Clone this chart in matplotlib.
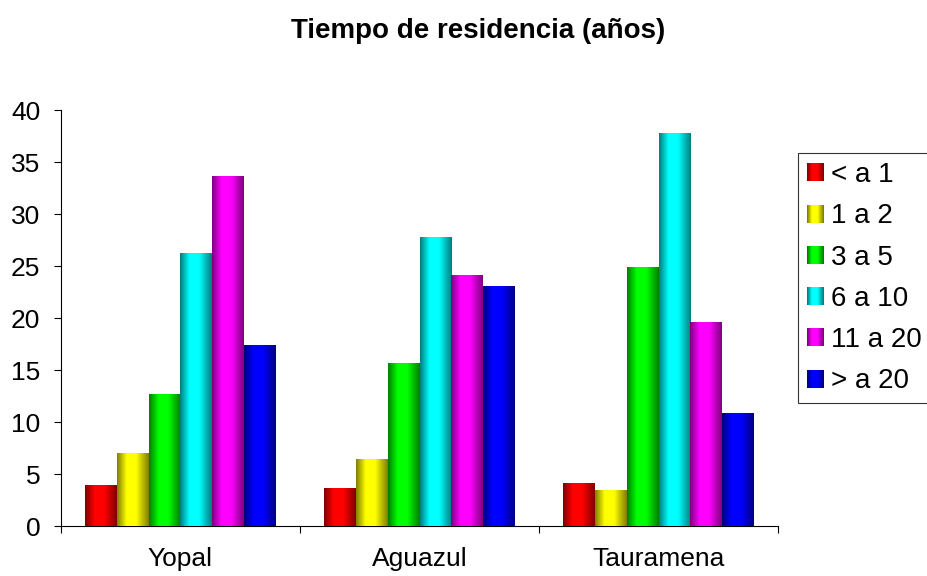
import numpy as np
import matplotlib
matplotlib.use("Agg")
import matplotlib.pyplot as plt
from matplotlib.patches import Rectangle
from matplotlib.legend_handler import HandlerBase

plt.rcParams['font.family'] = ['Liberation Sans', 'DejaVu Sans']

# data
municipios = ["Yopal", "Aguazul", "Tauramena"]
rangos = ["< a 1", "1 a 2", "3 a 5", "6 a 10", "11 a 20", "> a 20"]
menos_1 = [3.9, 3.6, 4.1]
de_1_a_2 = [7.0, 6.4, 3.4]
de_3_a_5 = [12.6, 15.6, 24.9]
de_6_a_10 = [26.2, 27.7, 37.7]
de_11_a_20 = [33.6, 24.1, 19.6]
mas_20 = [17.4, 23.0, 10.8]
series = [menos_1, de_1_a_2, de_3_a_5, de_6_a_10, de_11_a_20, mas_20]
colores = [(1, 0, 0), (1, 1, 0), (0, 1, 0), (0, 1, 1), (1, 0, 1), (0, 0, 1)]


def brillo(n=64):
	"""Horizontal shading profile: dark edges, bright left-centre"""
	t = np.linspace(0, 1, n)
	b = np.minimum(1.0, np.minimum(t / 0.3, (1 - t) / 0.4))
	return 0.5 + 0.5 * np.clip(b, 0, 1)


def gradiente(color, n=64):
	b = brillo(n)
	return np.array([[tuple(c * v for c in color) for v in b]])


class HandlerGradiente(HandlerBase):
	"""Legend box drawn as thin stripes to mimic the bar shading"""
	def __init__(self, color):
		super().__init__()
		self.color = color

	def create_artists(self, legend, orig_handle, xdescent, ydescent,
					   width, height, fontsize, trans):
		n = 16
		b = brillo(n)
		arts = []
		for i in range(n):
			c = tuple(k * b[i] for k in self.color)
			r = Rectangle((-xdescent + i * width / n, -ydescent), width / n + 0.2, height,
						  facecolor=c, edgecolor='none', transform=trans)
			arts.append(r)
		return arts


fig = plt.figure(figsize=(9.28, 5.76), dpi=100)
ax = fig.add_axes([0.0657, 0.0868, 0.7727, 0.7222])

x = np.arange(len(municipios)) + 0.5
ancho = 0.8 / len(series)
handles = []
for i, (vals, col) in enumerate(zip(series, colores)):
	pos = x - 0.4 + ancho * (i + 0.5)
	barras = ax.bar(pos, vals, width=ancho, color=col, label=rangos[i], zorder=2)
	handles.append(barras)
	for p in barras:
		ax.imshow(gradiente(col), extent=[p.get_x(), p.get_x() + p.get_width(), 0, p.get_height()],
				  aspect='auto', interpolation='bilinear', zorder=3)

ax.set_xlim(0, 3)
ax.set_ylim(0, 40)
ax.set_yticks(range(0, 41, 5))
ax.set_xticks([0, 1, 2, 3])
ax.set_xticklabels([])
ax.set_xticks(x, minor=True)
ax.set_xticklabels(municipios, minor=True, fontsize=19)
ax.tick_params(axis='x', which='minor', length=0, pad=15)
ax.tick_params(axis='x', which='major', length=5, direction='out', width=0.8)
ax.tick_params(axis='y', length=5, direction='out', width=0.8, pad=10, labelsize=19)

for s in ['top', 'right']:
	ax.spines[s].set_visible(False)
for s in ['left', 'bottom']:
	ax.spines[s].set_linewidth(0.8)

fig.text(478 / 928, 1 - 31 / 576, "Tiempo de residencia (años)", ha='center', va='center',
		 fontsize=20, fontweight='bold')

leg = fig.legend(handles, rangos, loc='upper left', bbox_to_anchor=(0.86, 0.734),
				 bbox_transform=fig.transFigure, borderaxespad=0, fontsize=20,
				 fancybox=False, frameon=True, handlelength=0.62, handleheight=0.62,
				 handletextpad=0.25, labelspacing=0.55, borderpad=0.32,
				 handler_map={h: HandlerGradiente(c) for h, c in zip(handles, colores)})
leg.get_frame().set_edgecolor('black')
leg.get_frame().set_linewidth(0.8)

fig.savefig("out.png", dpi=100)
